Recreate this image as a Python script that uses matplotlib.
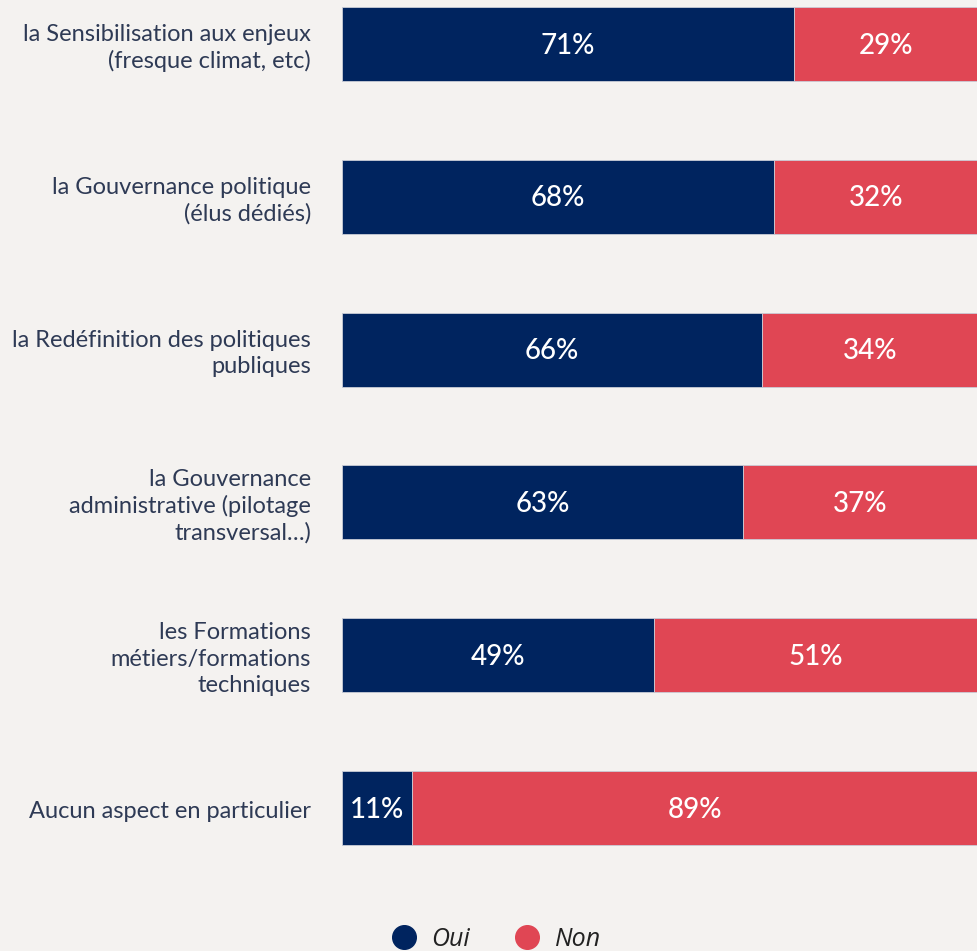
import matplotlib
matplotlib.use("Agg")
import matplotlib.pyplot as plt
from matplotlib.lines import Line2D

categories = [
    "la Sensibilisation aux enjeux\n(fresque climat, etc)",
    "la Gouvernance politique\n(élus dédiés)",
    "la Redéfinition des politiques\npubliques",
    "la Gouvernance\nadministrative (pilotage\ntransversal…)",
    "les Formations\nmétiers/formations\ntechniques",
    "Aucun aspect en particulier",
]
oui = [71, 68, 66, 63, 49, 11]
non = [29, 32, 34, 37, 51, 89]
series_names = ["Oui", "Non"]

BG = "#f4f2f0"
NAVY = "#00245f"
RED = "#e04654"
LABEL = "#2e3a55"

W, H = 978, 951
fig = plt.figure(figsize=(W / 100, H / 100), dpi=100, facecolor=BG)
ax = fig.add_axes([342 / W, 0, 1 - 342 / W, 1])
ax.set_facecolor(BG)

step = 152.8
first = 44
ax.set_ylim((H - first) / step, -first / step)
ax.set_xlim(0, 100)

ys = list(range(len(categories)))
bh = 74 / step
ax.barh(ys, oui, height=bh, color=NAVY, edgecolor="#c9ccd6", linewidth=0.6)
ax.barh(ys, non, left=oui, height=bh, color=RED, edgecolor="#c9ccd6", linewidth=0.6)

for y, o, n, cat in zip(ys, oui, non, categories):
    ax.text(o / 2, y + 0.01, f"{o}%", color="white", ha="center", va="center",
            fontsize=20, family=["Lato", "DejaVu Sans"], weight="medium")
    ax.text(o + n / 2, y + 0.01, f"{n}%", color="white", ha="center", va="center",
            fontsize=20, family=["Lato", "DejaVu Sans"], weight="medium")
    ax.text(-31 / 636 * 100, y + 0.025, cat, ha="right", va="center",
            fontsize=17, color=LABEL, family=["Lato", "DejaVu Sans"],
            linespacing=1.3, clip_on=False)

for s in ax.spines.values():
    s.set_visible(False)
ax.set_xticks([])
ax.set_yticks([])

# legend
handles = [Line2D([0], [0], marker="o", linestyle="", markersize=17,
                  markerfacecolor=c, markeredgecolor=c) for c in (NAVY, RED)]
leg = fig.legend(handles, series_names, loc="center", bbox_to_anchor=(496 / W, 1 - 939 / H),
                 ncol=2, frameon=False, handlelength=1.0, handletextpad=0.6,
                 columnspacing=1.8, borderpad=0, borderaxespad=0,
                 prop={"family": ["Open Sans", "DejaVu Sans"], "style": "italic", "size": 18})
for t in leg.get_texts():
    t.set_color("#222222")

fig.savefig("out.png", dpi=100, facecolor=BG)
